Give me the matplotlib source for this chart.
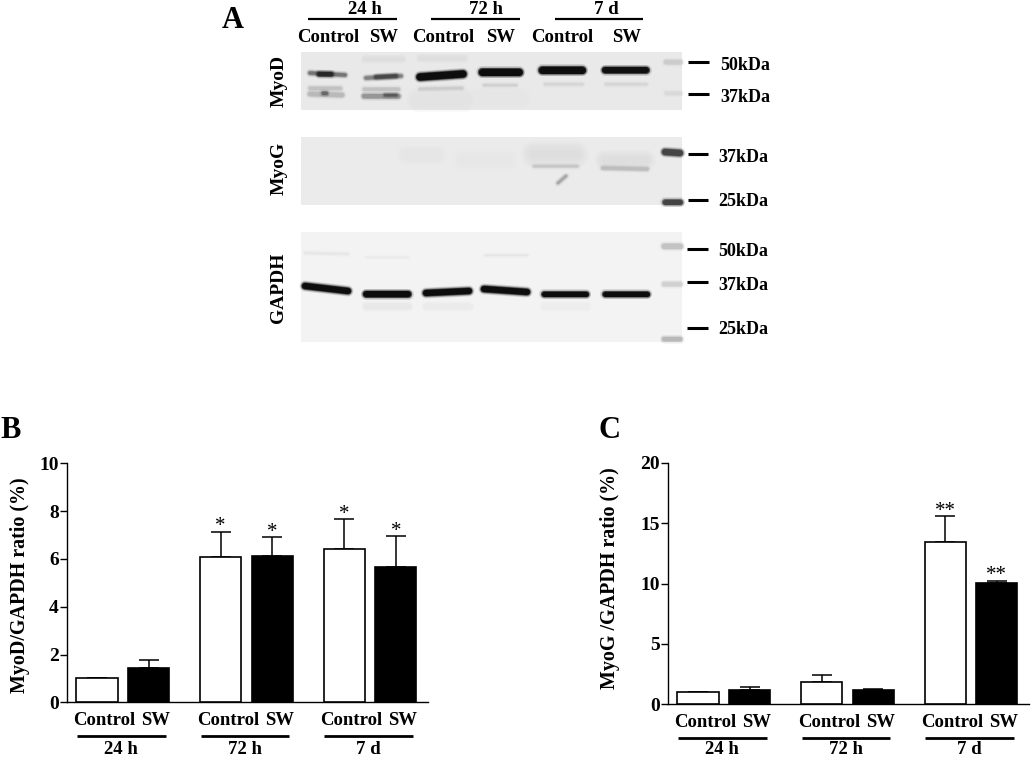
import numpy as np
from matplotlib import pyplot as plt
from matplotlib.patches import Rectangle

plt.rcParams['font.family'] = ['Liberation Serif', 'DejaVu Serif']
plt.rcParams['font.weight'] = 'bold'

W, H = 1031, 759

# 柱状图数据
groups = ['24 h', '72 h', '7 d']
bar_labels = ['Control', 'SW']

myod_control = [1.0, 6.08, 6.4]
myod_sw = [1.45, 6.13, 5.65]
myod_control_err = [0.0, 1.05, 1.25]
myod_sw_err = [0.3, 0.77, 1.3]
myod_control_star = ['', '*', '*']
myod_sw_star = ['', '*', '*']

myog_control = [1.0, 1.85, 13.45]
myog_sw = [1.2, 1.2, 10.05]
myog_control_err = [0.0, 0.55, 2.1]
myog_sw_err = [0.2, 0.1, 0.15]
myog_control_star = ['', '', '**']
myog_sw_star = ['', '', '**']

# 印迹图 条带 x0 y0 x1 y1 厚度 灰度
myod_bands = [
    (310, 73, 345, 75, 3, 0.45), (319, 74, 331, 74, 4, 0.15),
    (366, 78, 401, 76, 3, 0.5), (376, 77, 396, 76, 3, 0.28),
    (420, 77, 463, 74, 7, 0.03),
    (482, 72, 519, 72, 7, 0.03),
    (542, 70, 582, 70, 7, 0.03),
    (605, 70, 646, 70, 6, 0.04),
    (310, 88, 340, 88, 3, 0.76), (310, 94, 342, 95, 4, 0.72), (323, 93, 326, 93, 3, 0.4),
    (364, 89, 398, 89, 3, 0.76), (364, 96, 398, 96, 4, 0.58), (385, 95, 396, 95, 2, 0.35),
    (420, 89, 462, 88, 2, 0.8), (484, 85, 516, 85, 2, 0.82),
    (545, 84, 582, 84, 2, 0.84), (606, 84, 646, 84, 2, 0.84),
    (666, 62, 680, 62, 4, 0.8), (666, 93, 680, 93, 3, 0.85),
]
myod_smears = [
    (418, 100, 465, 100, 16, 0.89), (480, 98, 520, 98, 14, 0.9),
    (420, 58, 464, 58, 6, 0.87), (365, 59, 402, 59, 6, 0.87),
]
myog_bands = [
    (534, 166, 577, 166, 2, 0.78), (603, 168, 647, 169, 3, 0.74),
    (558, 183, 566, 176, 2, 0.65),
    (665, 152, 680, 153, 6, 0.25), (665, 202, 680, 202, 5, 0.25),
]
myog_smears = [
    (534, 154, 575, 154, 18, 0.87), (605, 160, 645, 160, 14, 0.87),
    (407, 155, 436, 155, 14, 0.9), (464, 160, 506, 160, 16, 0.905),
]
gapdh_bands = [
    (305, 286, 348, 291, 6, 0.03),
    (366, 294, 408, 294, 6, 0.03),
    (426, 293, 469, 291, 6, 0.03),
    (484, 289, 527, 292, 6, 0.03),
    (544, 294, 586, 294, 5, 0.03),
    (605, 294, 647, 294, 5, 0.03),
    (664, 246, 680, 246, 5, 0.76), (664, 284, 680, 284, 4, 0.82), (664, 339, 680, 339, 4, 0.72),
    (305, 253, 348, 254, 1, 0.9), (366, 257, 408, 257, 1, 0.92), (485, 255, 527, 255, 1, 0.9),
]
gapdh_smears = [
    (366, 306, 408, 306, 7, 0.91), (426, 306, 469, 306, 7, 0.92), (544, 306, 586, 306, 7, 0.93),
]

fig = plt.figure(figsize=(W / 100, H / 100), dpi=100)


def px_axes(x0, y0, x1, y1):
    # 像素坐标 -> figure坐标
    return fig.add_axes([x0 / W, 1 - y1 / H, (x1 - x0) / W, (y1 - y0) / H])


def soft_band(ax, b):
    x0, y0, x1, y1, t, g = b
    # 一层层叠起来，边缘看起来发虚
    for extra, a in [(5, 0.12), (3.5, 0.18), (2, 0.3), (1, 0.5), (0, 0.9)]:
        ax.plot([x0, x1], [y0, y1], color=str(g), lw=(t + extra) * 0.72, alpha=a, solid_capstyle='round')


def soft_smear(ax, s):
    x0, y0, x1, y1, t, g = s
    for f, a in [(1.5, 0.2), (1.25, 0.25), (1.0, 0.3), (0.75, 0.4), (0.5, 0.5)]:
        ax.plot([x0, x1], [y0, y1], color=str(g), lw=t * f * 0.72, alpha=a, solid_capstyle='round')


# 上面的印迹图，用整张图的像素坐标
bg = fig.add_axes([0, 0, 1, 1])
bg.set_xlim(0, W)
bg.set_ylim(H, 0)
bg.axis('off')

blots = [
    ((301, 52, 682, 110), '#e9e9e9', myod_smears, myod_bands),
    ((301, 137, 682, 205), '#ebebeb', myog_smears, myog_bands),
    ((301, 232, 682, 342), '#f3f3f3', gapdh_smears, gapdh_bands),
]
for (x0, y0, x1, y1), c, smears, bands in blots:
    bg.add_patch(Rectangle((x0, y0), x1 - x0, y1 - y0, color=c, lw=0))
    for s in smears:
        soft_smear(bg, s)
    for b in bands:
        soft_band(bg, b)

# 上方标题线
for x0, x1, name, xc in [(308, 397, groups[0], 365), (431, 520, groups[1], 486), (555, 643, groups[2], 606)]:
    bg.plot([x0, x1], [19, 19], color='k', lw=1.6, solid_capstyle='butt')
    bg.text(xc, 10, name, ha='center', va='center', fontsize=13.5)
for xc, name in zip([328, 384, 443, 501, 562, 627], bar_labels * 3):
    bg.text(xc, 38, name, ha='center', va='center', fontsize=13.5)

# kDa 标记
marks = [
    (688, 709, 62, 720, 65, '50kDa'), (688, 709, 94, 720, 98, '37kDa'),
    (688, 708, 154, 718, 157, '37kDa'), (688, 708, 200, 718, 202, '25kDa'),
    (687, 708, 249, 718, 251, '50kDa'), (687, 708, 282, 718, 285, '37kDa'),
    (687, 708, 328, 718, 330, '25kDa'),
]
for x0, x1, y, xt, yt, s in marks:
    bg.plot([x0, x1], [y, y], color='k', lw=2.2, solid_capstyle='butt')
    bg.text(xt, yt, s, ha='left', va='center', fontsize=13)

for y, s in [(81, 'MyoD'), (168, 'MyoG'), (288, 'GAPDH')]:
    bg.text(279, y, s, rotation=90, ha='center', va='center', fontsize=14)

bg.text(233, 20, 'A', ha='center', va='center', fontsize=22)
bg.text(11, 430, 'B', ha='center', va='center', fontsize=22)
bg.text(609, 430, 'C', ha='center', va='center', fontsize=22)


def bar_panel(box, left, right, ymax, yticks, control, sw, c_err, s_err, c_star, s_star, group_y):
    ax = px_axes(*box)
    x = np.array([0, 2.4, 4.8])
    width = 0.8
    ax.bar(x, control, width, color='white', edgecolor='k', linewidth=1.2, zorder=3)
    ax.bar(x + 1, sw, width, color='k', edgecolor='k', linewidth=1.2, zorder=3)
    zeros = np.zeros(3)
    ax.errorbar(x, control, yerr=[zeros, c_err], fmt='none', ecolor='k', elinewidth=1.1,
                capsize=7, capthick=1.1, zorder=2)
    ax.errorbar(x + 1, sw, yerr=[zeros, s_err], fmt='none', ecolor='k', elinewidth=1.1,
                capsize=7, capthick=1.1, zorder=2)
    for xs, vals, errs, stars in [(x, control, c_err, c_star), (x + 1, sw, s_err, s_star)]:
        for xi, v, e, s in zip(xs, vals, errs, stars):
            if s:
                ax.annotate(s, (xi, v + e), xytext=(0, 0.5), textcoords='offset points',
                            ha='center', va='baseline', fontsize=15, fontweight='normal')
    ax.set_xlim(left, right)
    ax.set_ylim(0, ymax)
    ax.set_yticks(yticks)
    ax.tick_params(axis='y', labelsize=14, length=4.7, width=1, pad=1)
    ticks = np.concatenate([x + 0.14, x + 1.14])
    ax.set_xticks(ticks, [bar_labels[0]] * 3 + [bar_labels[1]] * 3)
    ax.tick_params(axis='x', labelsize=13.5, length=0, pad=7)
    for s in ['top', 'right']:
        ax.spines[s].set_visible(False)
    for s in ['left', 'bottom']:
        ax.spines[s].set_linewidth(1)
    tr = ax.get_xaxis_transform()
    h = box[3] - box[1]
    for xi, name in zip(x, groups):
        ax.plot([xi - 0.39, xi + 1.33], [-33.5 / h, -33.5 / h], color='k', lw=2, transform=tr,
                clip_on=False, solid_capstyle='butt')
        ax.text(xi + 0.47, -(group_y - box[3]) / h, name, transform=tr, ha='center', va='center', fontsize=13.5)
    return ax


bar_panel((66.7, 463.3, 427.7, 702.3), -0.588, 6.42, 10, [0, 2, 4, 6, 8, 10],
          myod_control, myod_sw, myod_control_err, myod_sw_err,
          myod_control_star, myod_sw_star, 749.5)
bar_panel((667.7, 462.7, 1028.7, 704.3), -0.59, 6.42, 20, [0, 5, 10, 15, 20],
          myog_control, myog_sw, myog_control_err, myog_sw_err,
          myog_control_star, myog_sw_star, 749.5)

bg.text(20, 585, 'MyoD/GAPDH ratio (%)', rotation=90, ha='center', va='center', fontsize=14.4)
bg.text(610, 578, 'MyoG /GAPDH ratio (%)', rotation=90, ha='center', va='center', fontsize=14.4)

fig.savefig('out.png', dpi=100)
